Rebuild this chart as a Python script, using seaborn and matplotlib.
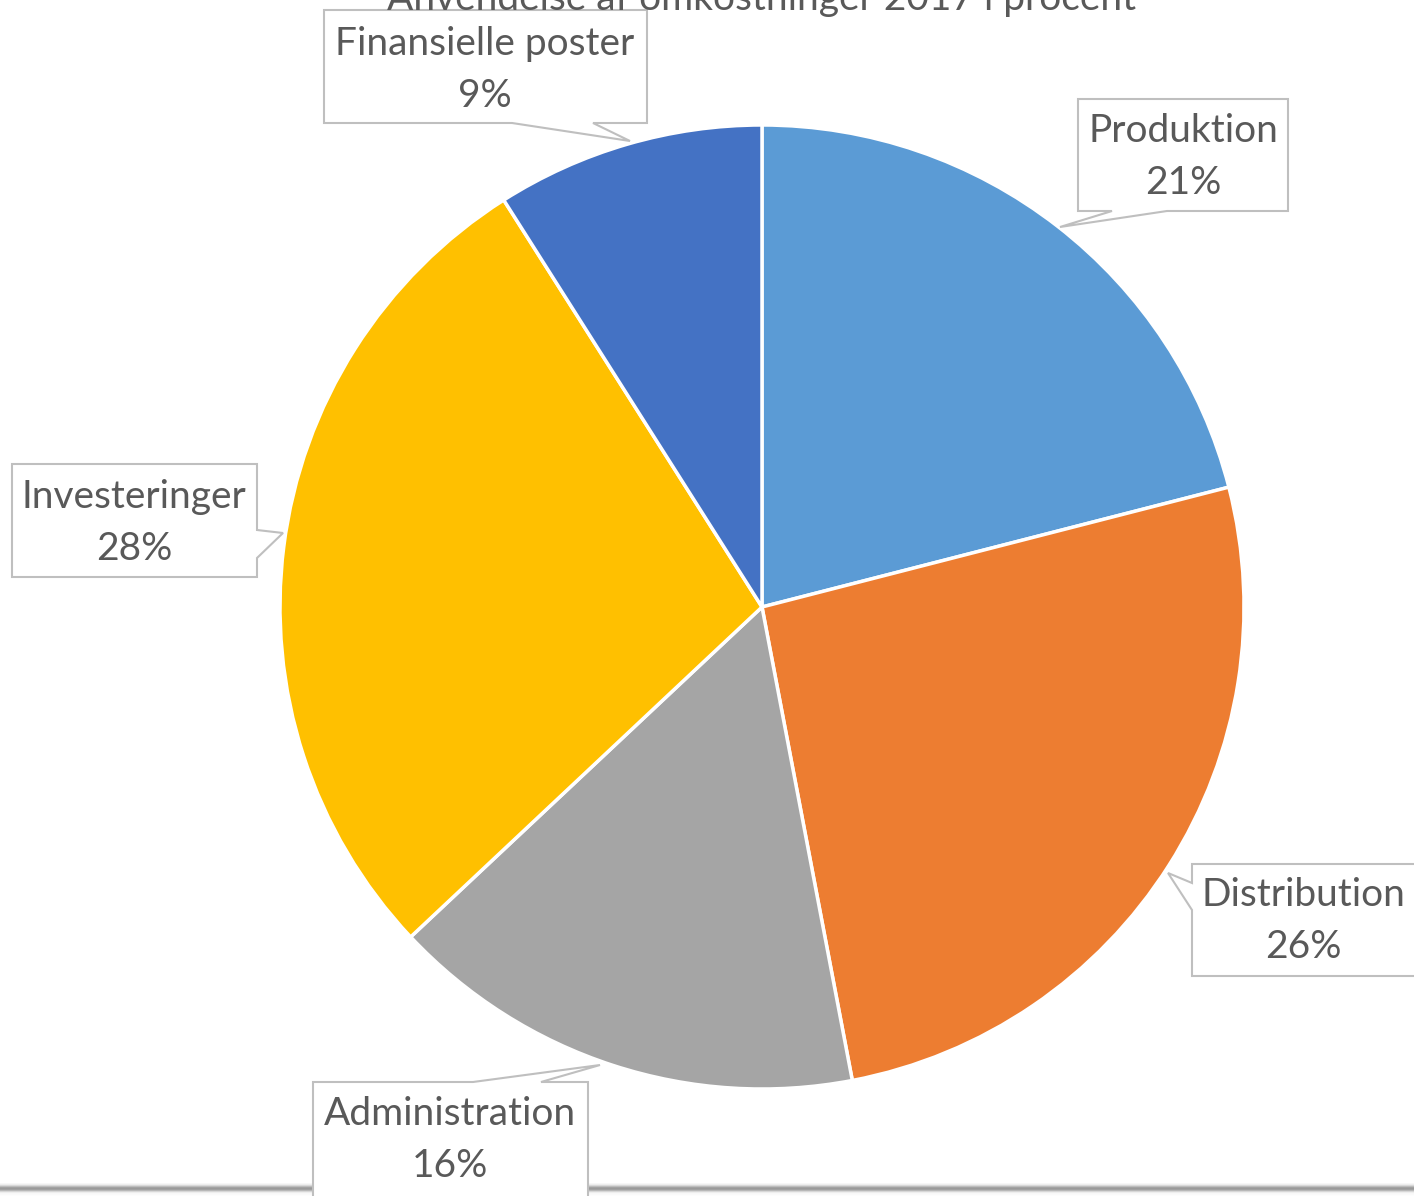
import numpy as np
import matplotlib
matplotlib.use("Agg")
import matplotlib.pyplot as plt
from matplotlib.patches import Polygon
import seaborn as sns

# Cost breakdown 2017, percent of total
categories = ["Produktion", "Distribution", "Administration", "Investeringer", "Finansielle poster"]
shares = [21, 26, 16, 28, 9]
colors = ["#5B9BD5", "#ED7D31", "#A5A5A5", "#FFC000", "#4472C4"]
title = "Anvendelse af omkostninger 2017 i procent"

sns.set_theme(style="white")
plt.rcParams["font.family"] = ["Lato", "DejaVu Sans"]

W, H = 1414, 1196
fig = plt.figure(figsize=(W / 100, H / 100), dpi=100)
ax = fig.add_axes([0, 0, 1, 1])


def Y(y):
    """Convert a top-down pixel row into the axis' bottom-up coordinate."""
    return H - y


# Pie
cx, cy, r = 762, 607, 482
ax.pie(shares, colors=colors, startangle=90, counterclock=False,
       center=(cx, Y(cy)), radius=r,
       wedgeprops=dict(edgecolor="white", linewidth=2.5))

# Soft grey rule along the bottom edge
band = np.array([0.97, 0.93, 0.85, 0.74, 0.64, 0.60, 0.63, 0.72, 0.84, 0.93, 0.97, 0.98, 0.99])
ax.imshow(np.repeat(band[:, None], 2, axis=1), cmap="gray", vmin=0, vmax=1,
          extent=(0, W, Y(1196), Y(1183)), aspect="auto", zorder=1,
          interpolation="bilinear")


def callout(box, side, base, tip):
    """Rectangle with a pointer on one side; coordinates given top-down."""
    x0, y0, x1, y1 = box
    a, b = base
    tx, ty = tip
    tl, tr, br, bl = (x0, y0), (x1, y0), (x1, y1), (x0, y1)
    if side == "top":
        pts = [tl, (a, y0), (tx, ty), (b, y0), tr, br, bl]
    elif side == "right":
        pts = [tl, tr, (x1, a), (tx, ty), (x1, b), br, bl]
    elif side == "bottom":
        pts = [tl, tr, br, (b, y1), (tx, ty), (a, y1), bl]
    else:
        pts = [tl, tr, br, bl, (x0, b), (tx, ty), (x0, a)]
    pts = [(px, Y(py)) for px, py in pts]
    ax.add_patch(Polygon(pts, closed=True, facecolor="white",
                         edgecolor="#BFBFBF", linewidth=1.5, zorder=3))


# box (x0, y0, x1, y1), side, pointer base, pointer tip, text centre x, name row, value row
labels = {
    "Produktion": ((1078, 99, 1288, 211), "bottom", (1112, 1167), (1060, 227), 1183, 131, 183),
    "Distribution": ((1192, 864, 1440, 976), "left", (883, 910), (1168, 873), 1303, 895, 947),
    "Administration": ((313, 1082, 588, 1215), "top", (473, 541), (600, 1065), 450, 1114, 1166),
    "Investeringer": ((12, 464, 257, 577), "right", (530, 558), (283, 533), 134, 497, 549),
    "Finansielle poster": ((324, 10, 647, 123), "bottom", (512, 593), (630, 141), 485, 44, 96),
}

text_color = "#595959"
for name, value in zip(categories, shares):
    box, side, base, tip, tx, y_name, y_val = labels[name]
    callout(box, side, base, tip)
    ax.text(tx, Y(y_name), name, ha="center", va="center", fontsize=28,
            color=text_color, zorder=4)
    ax.text(tx, Y(y_val), f"{value}%", ha="center", va="center", fontsize=28,
            color=text_color, zorder=4)

ax.text(762, Y(10), title, ha="center", va="baseline", fontsize=28,
        color=text_color, zorder=4)

ax.set_xlim(0, W)
ax.set_ylim(0, H)
ax.set_aspect("auto")
ax.axis("off")

fig.savefig("out.png", dpi=100, facecolor="white")
